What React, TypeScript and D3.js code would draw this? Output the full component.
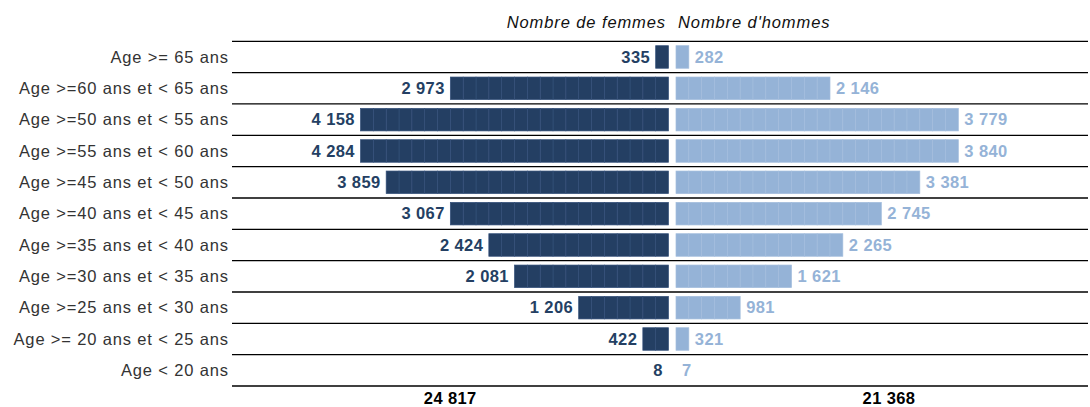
import React, { useEffect, useRef } from "react";
import * as d3 from "d3";

const categories = [
  "Age >= 65 ans",
  "Age >=60 ans et < 65 ans",
  "Age >=50 ans et < 55 ans",
  "Age >=55 ans et < 60 ans",
  "Age >=45 ans et < 50 ans",
  "Age >=40 ans et < 45 ans",
  "Age >=35 ans et < 40 ans",
  "Age >=30 ans et < 35 ans",
  "Age >=25 ans et < 30 ans",
  "Age >= 20 ans et < 25 ans",
  "Age < 20 ans",
];
const femmes = [335, 2973, 4158, 4284, 3859, 3067, 2424, 2081, 1206, 422, 8];
const hommes = [282, 2146, 3779, 3840, 3381, 2745, 2265, 1621, 981, 321, 7];
const headers = ["Nombre de femmes", "Nombre d'hommes"];
// each little block stands for this many people
const unit = 171.5;

const fr = d3.formatLocale({ decimal: ",", thousands: " ", grouping: [3], currency: ["", " €"] });
const fmt = fr.format(",d");
const FONT = "Arial, 'Liberation Sans', sans-serif";

export default function App() {
  const ref = useRef<SVGSVGElement>(null);

  useEffect(() => {
    const W = 1090, H = 407;
    const svg = d3.select(ref.current);
    svg.selectAll("*").remove();

    const left = 232, right = 1088;
    const midL = 668.5, midR = 676;
    const top = 41.3, bottom = 386;

    const y = d3.scaleBand<string>().domain(categories).range([top, bottom]);
    const x = d3.scaleLinear().domain([0, unit * 24]).range([0, 308]);
    const barH = y.bandwidth() * 0.72;
    const blockW = x(unit);

    const g = svg.append("g");

    // row separators
    const lines = [top, ...categories.map(c => (y(c) as number) + y.bandwidth())];
    g.selectAll(".row_line")
      .data(lines)
      .join("line")
      .attr("x1", left)
      .attr("x2", right)
      .attr("y1", d => d)
      .attr("y2", d => d)
      .attr("stroke", "#000")
      .attr("stroke-width", 1.3);

    // category labels
    g.selectAll(".cat")
      .data(categories)
      .join("text")
      .attr("x", 228.8)
      .attr("y", d => (y(d) as number) + y.bandwidth() / 2)
      .attr("dy", "0.35em")
      .attr("text-anchor", "end")
      .style("font-family", FONT)
      .style("font-size", "16.5px")
      .style("letter-spacing", "0.85px")
      .style("fill", "#333")
      .text(d => d);

    const sides = [
      { vals: femmes, dir: -1, base: midL, fill: "#243f63", stroke: "#34507a" },
      { vals: hommes, dir: 1, base: midR, fill: "#95b3d7", stroke: "#a3bddd" },
    ];

    sides.forEach(s => {
      const blocks: { row: string; i: number }[] = [];
      s.vals.forEach((v, k) => {
        const n = Math.floor(v / unit);
        for (let i = 0; i < n; i++) blocks.push({ row: categories[k], i });
      });

      g.append("g")
        .selectAll("rect")
        .data(blocks)
        .join("rect")
        .attr("x", d => (s.dir < 0 ? s.base - x((d.i + 1) * unit) : s.base + x(d.i * unit)))
        .attr("y", d => (y(d.row) as number) + (y.bandwidth() - barH) / 2)
        .attr("width", blockW)
        .attr("height", barH)
        .attr("fill", s.fill)
        .attr("stroke", s.stroke)
        .attr("stroke-width", 0.7);

      g.append("g")
        .selectAll("text")
        .data(s.vals)
        .join("text")
        .attr("x", v => s.base + s.dir * (x(Math.floor(v / unit) * unit) + 6) + (s.dir < 0 ? 0.4 : 0))
        .attr("y", (v, k) => (y(categories[k]) as number) + y.bandwidth() / 2)
        .attr("dy", "0.35em")
        .attr("text-anchor", s.dir < 0 ? "end" : "start")
        .style("font-family", FONT)
        .style("font-size", "16.5px")
        .style("letter-spacing", "0.4px")
        .style("font-weight", "bold")
        .style("fill", s.fill)
        .text(v => fmt(v));
    });

    // headers
    svg.selectAll(".hdr")
      .data(headers)
      .join("text")
      .attr("x", (d, i) => (i === 0 ? 666 : 678))
      .attr("y", 28)
      .attr("text-anchor", (d, i) => (i === 0 ? "end" : "start"))
      .style("font-family", FONT)
      .style("font-size", "16.5px")
      .style("letter-spacing", "0.9px")
      .style("font-style", "italic")
      .style("fill", "#111")
      .text(d => d);

    // totals
    svg.selectAll(".total")
      .data([
        { v: d3.sum(femmes), cx: (left + midL) / 2 },
        { v: d3.sum(hommes), cx: 889 },
      ])
      .join("text")
      .attr("x", d => d.cx)
      .attr("y", 404)
      .attr("text-anchor", "middle")
      .style("font-family", FONT)
      .style("font-size", "16.5px")
      .style("letter-spacing", "0.4px")
      .style("font-weight", "bold")
      .style("fill", "#000")
      .text(d => fmt(d.v));

    svg.attr("width", W).attr("height", H);
  }, []);

  return (
    <svg
      ref={ref}
      width={1090}
      height={407}
      style={{ position: "absolute", left: 0, top: 0, background: "#fff" }}
    />
  );
}
